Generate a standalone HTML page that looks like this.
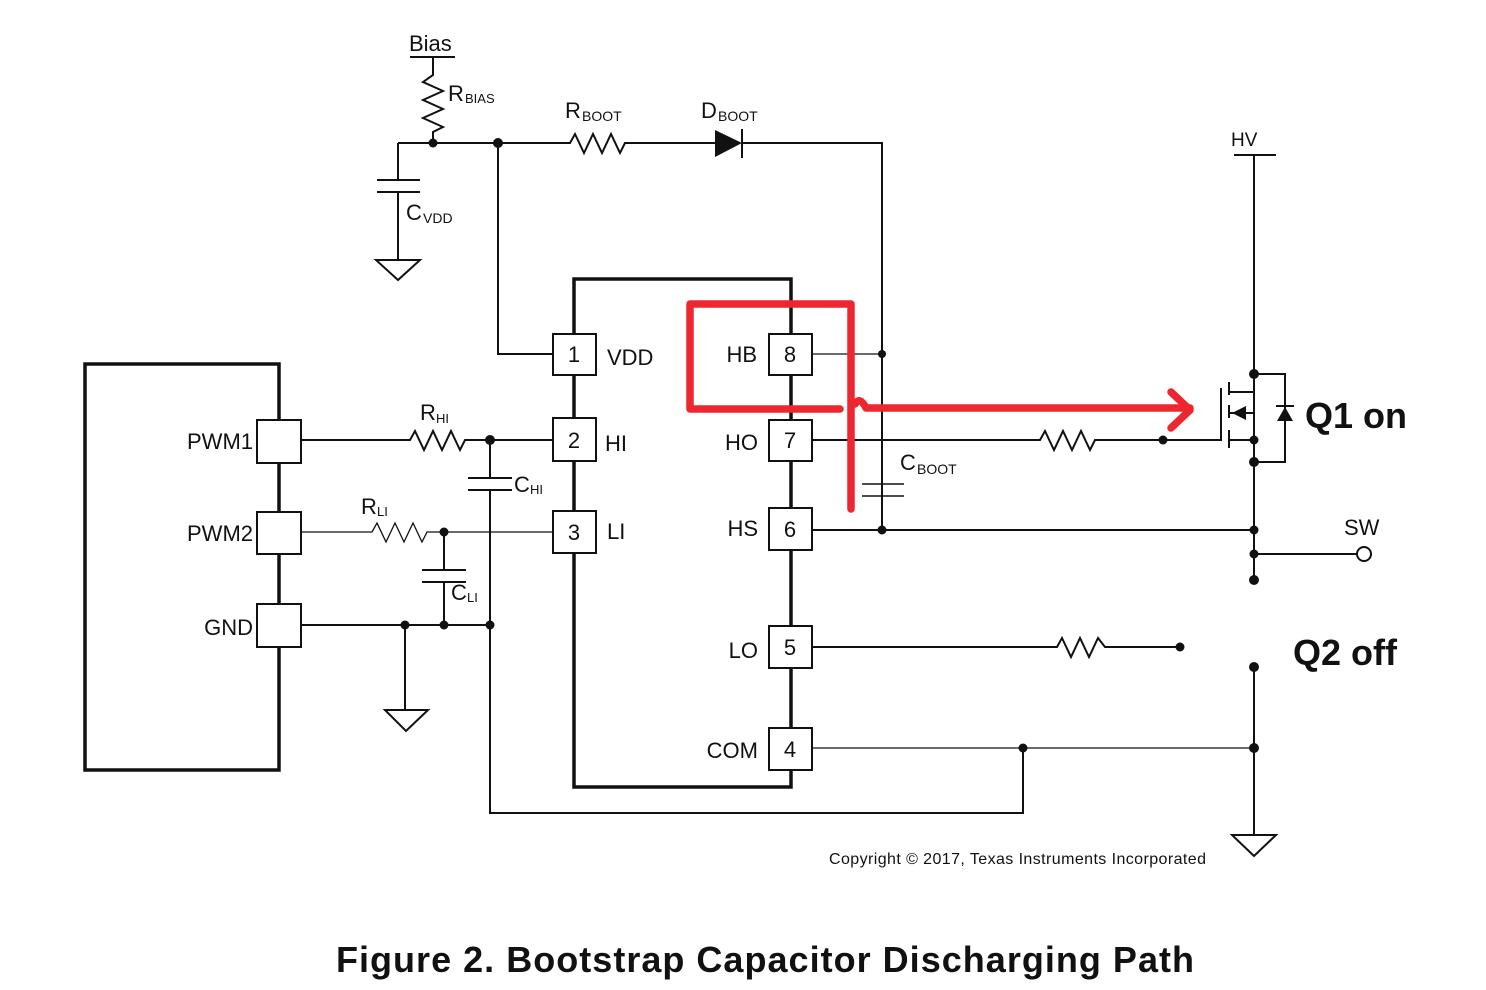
<!DOCTYPE html>
<html><head><meta charset="utf-8"><style>html,body{margin:0;padding:0;background:#fff}svg{display:block}</style></head>
<body>
<svg width="1486" height="990" viewBox="0 0 1486 990" xmlns="http://www.w3.org/2000/svg" font-family="Liberation Sans, sans-serif">
<rect width="1486" height="990" fill="#fff"/>
<g stroke="#111" stroke-width="2" fill="none">
<!-- Bias -->
<line x1="410" y1="57" x2="455" y2="57"/>
<path d="M433 57 V75 L423 82 L443 91 L423 100 L443 109 L423 118 L443 127 L433 132 V143"/>
<path d="M398 143 H570 L575 134 L584 153 L593 134 L602 153 L611 134 L620 153 L625 143 H715"/>
<path d="M742 143 H882 V530"/>
<line x1="742" y1="129" x2="742" y2="158"/>
<path d="M398 143 V180 M377 180 H420 M377 192 H420 M398 192 V260"/>
<path d="M376 260 H420 L398 280 Z"/>
<path d="M498 143 V354 H553"/>
<!-- IC -->
<rect x="574" y="279" width="217" height="508" stroke-width="3.5"/>
<!-- left box -->
<rect x="85" y="364" width="194" height="406" stroke-width="3.5"/>
<!-- wires -->
<path d="M301 440 H410 L415 431 L424 450 L433 431 L442 450 L451 431 L460 450 L465 440 H553"/>
<path d="M301 532 H372 L377 523 L386 542 L395 523 L404 542 L413 523 L422 542 L427 532 H553" stroke-width="1.3"/>
<path d="M490 440 V478 M468 478 H512 M468 490 H512 M490 490 V813 H1023 V748"/>
<path d="M444 532 V570 M422 570 H466 M422 582 H466 M444 582 V625"/>
<path d="M301 625 H490"/>
<path d="M405 625 V710 M385 710 H428 L406 731 Z"/>
<path d="M812 354 H882" stroke-width="1.3"/>
<path d="M812 440 H1040 L1045 431 L1054 450 L1063 431 L1072 450 L1081 431 L1090 450 L1095 440 H1220"/>
<path d="M862 484 H904 M862 496 H904" stroke-width="1.5"/>
<path d="M812 530 H1254"/>
<path d="M812 647 H1057 L1062 638 L1071 657 L1080 638 L1089 657 L1098 638 L1105 647 H1180"/>
<path d="M812 748 H1254" stroke-width="1.3"/>
<path d="M1254 667 V835 M1232 835 H1276 L1254 856 Z"/>
<!-- HV / Q1 -->
<line x1="1234" y1="155" x2="1276" y2="155"/>
<path d="M1254 155 V580"/>
<path d="M1254 554 H1357"/>
<circle cx="1364" cy="554" r="7" fill="#fff"/>
<path d="M1221 388 V441"/>
<path d="M1229 382 V395 M1229 405 V418 M1229 430 V448"/>
<path d="M1229 392 H1254 M1229 413 H1254 V440 M1229 440 H1254"/>
<path d="M1254 374 H1285 V462 H1254"/>
</g>
<g fill="#111">
<path d="M715 130 L742 143 L715 157 Z"/>
<path d="M1232 413 L1246 406 L1246 420 Z"/>
<path d="M1277 421 H1293 L1285 407 Z"/>
<rect x="1276" y="405" width="18" height="2"/>
<circle cx="433" cy="143" r="4.5"/><circle cx="498" cy="143" r="5"/>
<circle cx="490" cy="440" r="5"/><circle cx="444" cy="532" r="4.5"/>
<circle cx="405" cy="625" r="4.5"/><circle cx="444" cy="625" r="4.5"/><circle cx="490" cy="625" r="4.5"/>
<circle cx="882" cy="354" r="4"/><circle cx="882" cy="530" r="4.5"/>
<circle cx="1163" cy="440" r="4.5"/><circle cx="1254" cy="374" r="5"/><circle cx="1254" cy="440" r="4.5"/><circle cx="1254" cy="462" r="5"/>
<circle cx="1254" cy="530" r="4.5"/><circle cx="1254" cy="554" r="4.5"/><circle cx="1254" cy="580" r="5"/>
<circle cx="1180" cy="647" r="4.5"/><circle cx="1254" cy="667" r="5"/><circle cx="1254" cy="748" r="5"/><circle cx="1023" cy="748" r="4.5"/>
</g>
<!-- pin boxes -->
<g stroke="#111" stroke-width="2" fill="#fff">
<rect x="553" y="334" width="43" height="41"/><rect x="553" y="418" width="43" height="43"/><rect x="553" y="511" width="43" height="42"/>
<rect x="769" y="334" width="43" height="41"/><rect x="769" y="420" width="43" height="41"/><rect x="769" y="508" width="43" height="42"/>
<rect x="769" y="626" width="43" height="42"/><rect x="769" y="728" width="43" height="42"/>
<rect x="257" y="420" width="44" height="43"/><rect x="257" y="512" width="44" height="42"/><rect x="257" y="604" width="44" height="43"/>
</g>
<g fill="#111" font-size="22">
<text x="574" y="362" text-anchor="middle">1</text><text x="574" y="448" text-anchor="middle">2</text><text x="574" y="540" text-anchor="middle">3</text>
<text x="790" y="362" text-anchor="middle">8</text><text x="790" y="448" text-anchor="middle">7</text><text x="790" y="537" text-anchor="middle">6</text>
<text x="790" y="655" text-anchor="middle">5</text><text x="790" y="757" text-anchor="middle">4</text>
<text x="607" y="365">VDD</text><text x="605" y="451">HI</text><text x="607" y="539">LI</text>
<text x="757" y="362" text-anchor="end">HB</text><text x="758" y="450" text-anchor="end">HO</text><text x="758" y="536" text-anchor="end">HS</text>
<text x="758" y="658" text-anchor="end">LO</text><text x="758" y="758" text-anchor="end">COM</text>
<text x="253" y="449" text-anchor="end">PWM1</text><text x="253" y="541" text-anchor="end">PWM2</text><text x="253" y="635" text-anchor="end">GND</text>
<text x="409" y="51">Bias</text>
<text x="448" y="101">R</text><text x="465" y="103" font-size="13">BIAS</text>
<text x="565" y="118">R</text><text x="582" y="121" font-size="14">BOOT</text>
<text x="701" y="118">D</text><text x="718" y="121" font-size="14">BOOT</text>
<text x="406" y="220">C</text><text x="423" y="223" font-size="14">VDD</text>
<text x="420" y="420">R</text><text x="436" y="423" font-size="13">HI</text>
<text x="514" y="492">C</text><text x="530" y="494" font-size="13">HI</text>
<text x="361" y="514">R</text><text x="377" y="516" font-size="13">LI</text>
<text x="451" y="600">C</text><text x="467" y="602" font-size="13">LI</text>
<text x="900" y="470">C</text><text x="917" y="474" font-size="14">BOOT</text>
<text x="1231" y="146" font-size="19">HV</text>
<text x="1344" y="535">SW</text>
<text x="1305" y="428" font-size="36" font-weight="bold">Q1 on</text>
<text x="1293" y="665" font-size="36" font-weight="bold">Q2 off</text>
<text x="829" y="864" font-size="16" textLength="377">Copyright © 2017, Texas Instruments Incorporated</text>
<text x="336" y="972" font-size="36" font-weight="bold" textLength="858">Figure 2. Bootstrap Capacitor Discharging Path</text>
</g>
<!-- red path -->
<g stroke="#ee2630" stroke-width="7.5" fill="none" stroke-linecap="round" stroke-linejoin="round">
<path d="M851 509 V304 H690 V409 H840"/>
<path d="M855 404 Q860 396 866 408 H1190"/>
<path d="M1171 392 L1190 410 L1171 428"/>
</g>
</svg>
</body></html>
